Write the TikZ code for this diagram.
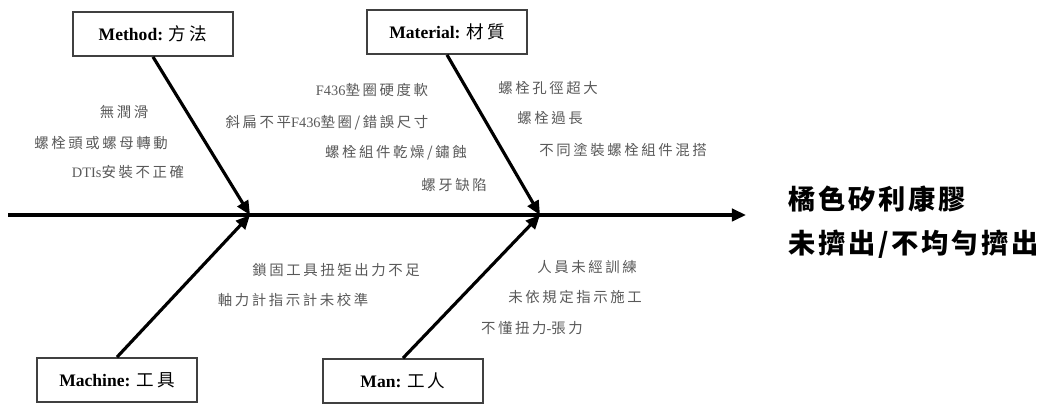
\documentclass[tikz,border=0pt]{standalone}
\usepackage{fontspec}
\setmainfont{Liberation Serif}
\newfontfamily\cjk[LetterSpace=18]{Noto Sans CJK TC}
\newfontfamily\cjkbig[LetterSpace=10]{Noto Sans CJK TC}
\newcommand{\zh}[1]{{\cjk #1}}
\usetikzlibrary{arrows.meta}

\begin{document}
\begin{tikzpicture}[
    x=0.02cm, y=-0.02cm,
    category/.style={
        draw=black!75,
        line width=1pt,
        minimum width=3.2cm,
        minimum height=0.88cm,
        font=\fontsize{10}{12}\selectfont
    },
    cause/.style={
        text=black!65,
        inner sep=0pt,
        font=\fontsize{8.2}{10}\selectfont
    },
    bone/.style={
        line width=1.8pt,
        -{Triangle[length=8pt,width=7pt]}
    }
]
\useasboundingbox (0,0) rectangle (1055,404);

% spine
\coordinate (tail) at (8,215);
\coordinate (head) at (746,215);
\coordinate (joint1) at (250,215);
\coordinate (joint2) at (540,215);
\draw [bone] (tail) -- (head);

% categories
\node [category] (method) at (153,34) {\textbf{Method:} {\cjk 方法}};
\node [category] (material) at (447,32) {\textbf{Material:} {\cjk 材質}};
\node [category] (machine) at (117,380) {\textbf{Machine:} {\cjk 工具}};
\node [category] (man) at (403,381) {\textbf{Man:} {\cjk 工人}};

\draw [bone] (method.south) -- (joint1);
\draw [bone] (material.south) -- (joint2);
\draw [bone] (machine.north) -- (joint1);
\draw [bone] (man.north) -- (joint2);

% effect
\node [anchor=west, align=left, inner sep=0pt,
    font=\fontsize{15.5}{25}\selectfont\cjkbig\bfseries] (effect) at (788,222)
    {橘色矽利康膠\\未擠出/不均勻擠出};

% causes: method
\node [cause] (method1) at (124,112) {\zh{無潤滑}};
\node [cause] (method2) at (101,143) {\zh{螺栓頭或螺母轉動}};
\node [cause] (method3) at (128,172) {DTIs\zh{安裝不正確}};

% causes: material
\node [cause] (material1) at (372,90) {F436\zh{墊圈硬度軟}};
\node [cause] (material2) at (327,123) {\zh{斜扁不平}F436\zh{墊圈/錯誤尺寸}};
\node [cause] (material3) at (396,153) {\zh{螺栓組件乾燥/鏽蝕}};
\node [cause] (material4) at (454,185) {\zh{螺牙缺陷}};
\node [cause] (material5) at (548,88) {\zh{螺栓孔徑超大}};
\node [cause] (material6) at (550,118) {\zh{螺栓過長}};
\node [cause] (material7) at (623,150) {\zh{不同塗裝螺栓組件混搭}};

% causes: machine
\node [cause] (machine1) at (336,270) {\zh{鎖固工具扭矩出力不足}};
\node [cause] (machine2) at (293,300) {\zh{軸力計指示計未校準}};

% causes: man
\node [cause] (man1) at (587,267) {\zh{人員未經訓練}};
\node [cause] (man2) at (575,297) {\zh{未依規定指示施工}};
\node [cause] (man3) at (532,328) {\zh{不懂扭力}-\zh{張力}};
\end{tikzpicture}
\end{document}
